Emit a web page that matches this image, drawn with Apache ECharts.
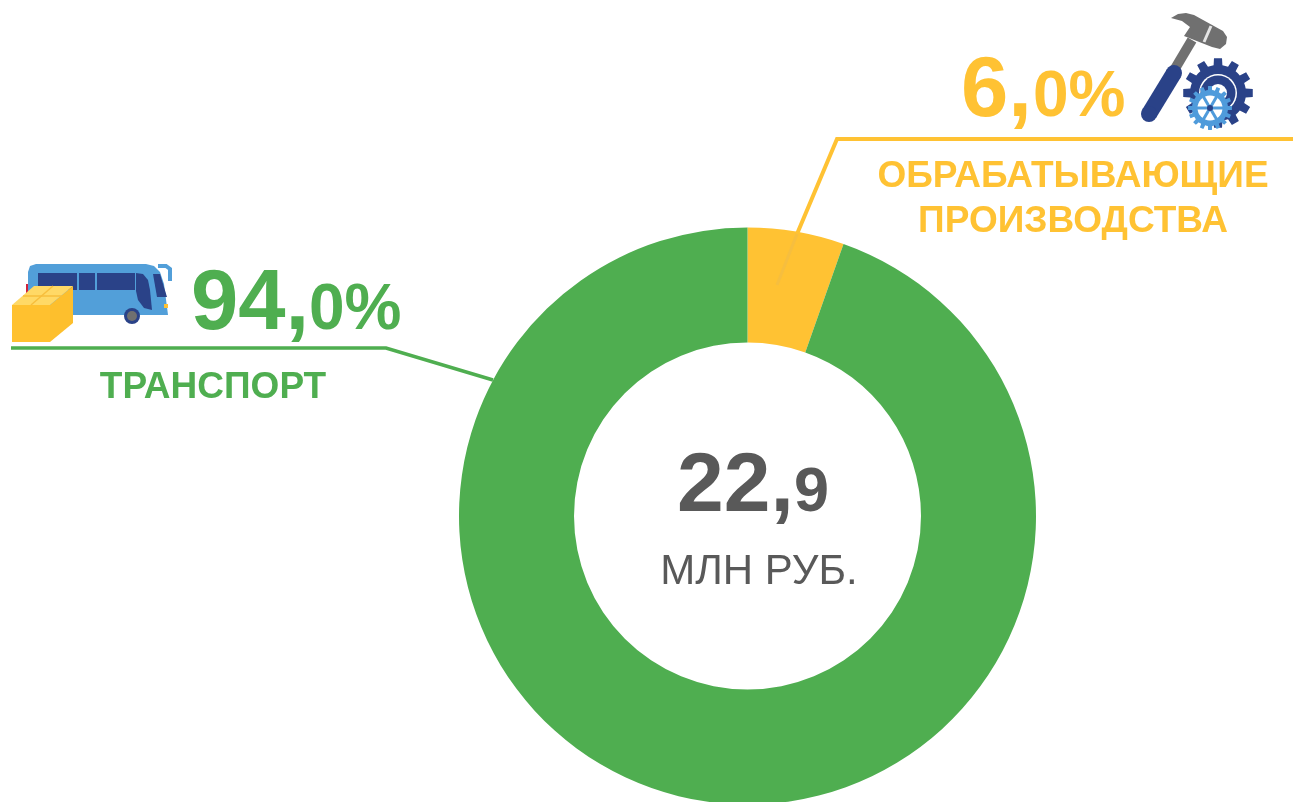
<!DOCTYPE html>
<html>
<head>
<meta charset="utf-8">
<style>
  html, body { margin: 0; padding: 0; background: #fff; }
  #main { width: 1293px; height: 802px; }
</style>
</head>
<body>
<div id="main"></div>
<script src="https://cdn.jsdelivr.net/npm/echarts@6/dist/echarts.min.js"></script>
<script>
const categories = ["ОБРАБАТЫВАЮЩИЕ ПРОИЗВОДСТВА", "ТРАНСПОРТ"];
const sectorValues = [5.4, 94.6];
const colors = ["#FFC233", "#4FAE50"];
const totalBig = "22,";
const totalSmall = "9";
const totalUnit = "МЛН РУБ.";
const transportBig = "94,";
const transportSmall = "0%";
const industryBig = "6,";
const industrySmall = "0%";

const FONT = '"Liberation Sans", Arial, sans-serif';
const GRAY = "#595959";
const NAVY = "#2A4288";
const BLUE = "#529FD9";

// y is the text baseline
function txt(text, x, y, size, color, align, weight) {
  return {
    type: "text",
    silent: true,
    z: 10,
    style: {
      text: text,
      x: x,
      y: y - size * 0.8,
      fill: color,
      align: align || "left",
      font: (weight || "bold") + " " + size + "px " + FONT,
    },
  };
}

function line(points, color, width, z) {
  return {
    type: "polyline",
    silent: true,
    z: z || 10,
    shape: { points: points },
    style: { stroke: color, lineWidth: width, fill: null, lineJoin: "miter" },
  };
}

function poly(points, fill, z) {
  return { type: "polygon", silent: true, z: z || 10, shape: { points: points }, style: { fill: fill } };
}

function circle(cx, cy, r, fill, z) {
  return { type: "circle", silent: true, z: z || 11, shape: { cx: cx, cy: cy, r: r }, style: { fill: fill } };
}

function box(x, y, w, h, fill) {
  return { type: "rect", silent: true, z: 10, shape: { x: x, y: y, width: w, height: h }, style: { fill: fill } };
}

function gear(cx, cy, outer, body, teeth, fill, z) {
  const pts = [];
  for (let i = 0; i < teeth; i++) {
    const a = (i / teeth) * Math.PI * 2;
    const s = (Math.PI * 2) / teeth;
    [[-0.5, body], [-0.3, body], [-0.22, outer], [0.22, outer], [0.3, body], [0.5, body]].forEach(function (p) {
      pts.push([cx + p[1] * Math.cos(a + p[0] * s), cy + p[1] * Math.sin(a + p[0] * s)]);
    });
  }
  return poly(pts, fill, z);
}

const busIcon = [
  box(26, 284, 3, 9, "#D0213A"),
  line([[158, 266], [166, 266], [170, 269], [170, 281]], BLUE, 4),
  poly([[28, 272], [30, 266], [36, 264], [146, 264], [154, 266], [160, 272], [164, 284], [168, 315], [28, 315]], BLUE),
  box(38, 273, 39, 17, NAVY),
  box(79, 273, 16, 17, NAVY),
  box(97, 273, 38, 17, NAVY),
  poly([[136, 273], [143, 274], [148, 280], [150, 290], [152, 310], [144, 308], [138, 300], [136, 291]], NAVY),
  poly([[153, 274], [160, 274], [167, 297], [157, 297]], NAVY),
  box(164, 304, 4, 4, "#FFC233"),
  circle(132, 316, 8, NAVY),
  circle(132, 316, 5, "#707070"),
  poly([[12, 305], [50, 305], [50, 342], [12, 342]], "#FFC12F", 12),
  poly([[50, 305], [73, 286], [73, 323], [50, 342]], "#FDBF2D", 12),
  poly([[12, 305], [34, 286], [73, 286], [50, 305]], "#FFD966", 12),
  line([[31, 305], [53, 286]], "#F7BE3C", 1.5, 13),
  line([[23, 296], [62, 296]], "#F7BE3C", 1.5, 13),
];

const toolIcon = [
  line([[1173, 72], [1192, 40]], "#707070", 10),
  line([[1149, 114], [1174, 73]], NAVY, 16),
  circle(1149, 114, 8, NAVY),
  circle(1174, 73, 8, NAVY),
  poly([[1171, 18], [1178, 14], [1186, 13], [1194, 15], [1223, 31], [1227, 37], [1226, 44], [1220, 49], [1212, 47], [1184, 36], [1190, 27], [1182, 21]], "#707070"),
  line([[1211, 26], [1204, 42]], "#E4E4E4", 3, 11),
  gear(1218, 93, 35, 28, 12, NAVY, 11),
  circle(1218, 93, 19, "#fff"),
  circle(1218, 93, 17.5, NAVY),
  circle(1218, 93, 9, "#fff"),
  gear(1210, 108, 22, 18, 16, "#4F9BDB", 12),
  circle(1210, 108, 12.5, "#fff", 12),
  line([[1197, 108], [1223, 108]], "#4F9BDB", 3, 13),
  line([[1203, 96], [1217, 120]], "#4F9BDB", 3, 13),
  line([[1217, 96], [1203, 120]], "#4F9BDB", 3, 13),
  circle(1210, 108, 3, NAVY, 14),
];

const option = {
  animation: false,
  backgroundColor: "#fff",
  color: colors,
  series: [
    {
      type: "pie",
      center: [747.5, 516],
      radius: [173.5, 288.5],
      startAngle: 90,
      clockwise: true,
      silent: true,
      label: { show: false },
      labelLine: { show: false },
      itemStyle: { borderWidth: 0 },
      data: categories.map(function (name, i) {
        return { name: name, value: sectorValues[i] };
      }),
    },
  ],
  graphic: [
    line([[11, 348], [386, 348], [493, 380]], colors[1], 3.5),
    line([[1293, 139], [837, 139], [797, 234]], colors[0], 4),
    line([[797, 234], [777, 285]], "#F6BE3F", 3),
    txt(transportBig, 191, 331, 85, colors[1]),
    txt(transportSmall, 309, 331, 64, colors[1]),
    txt(categories[1], 213, 399, 37, colors[1], "center"),
    txt(industryBig, 961, 118, 85, colors[0]),
    txt(industrySmall, 1033, 118, 64, colors[0]),
    txt("ОБРАБАТЫВАЮЩИЕ", 1073, 188, 37, colors[0], "center"),
    txt("ПРОИЗВОДСТВА", 1073, 233, 37, colors[0], "center"),
    txt(totalBig, 677, 513, 84, GRAY),
    txt(totalSmall, 794, 513, 63, GRAY),
    txt(totalUnit, 759, 585, 42, GRAY, "center", "normal"),
  ].concat(busIcon, toolIcon),
};

let myChart = echarts.init(document.getElementById("main"));
myChart.setOption(option);
</script>
</body>
</html>
